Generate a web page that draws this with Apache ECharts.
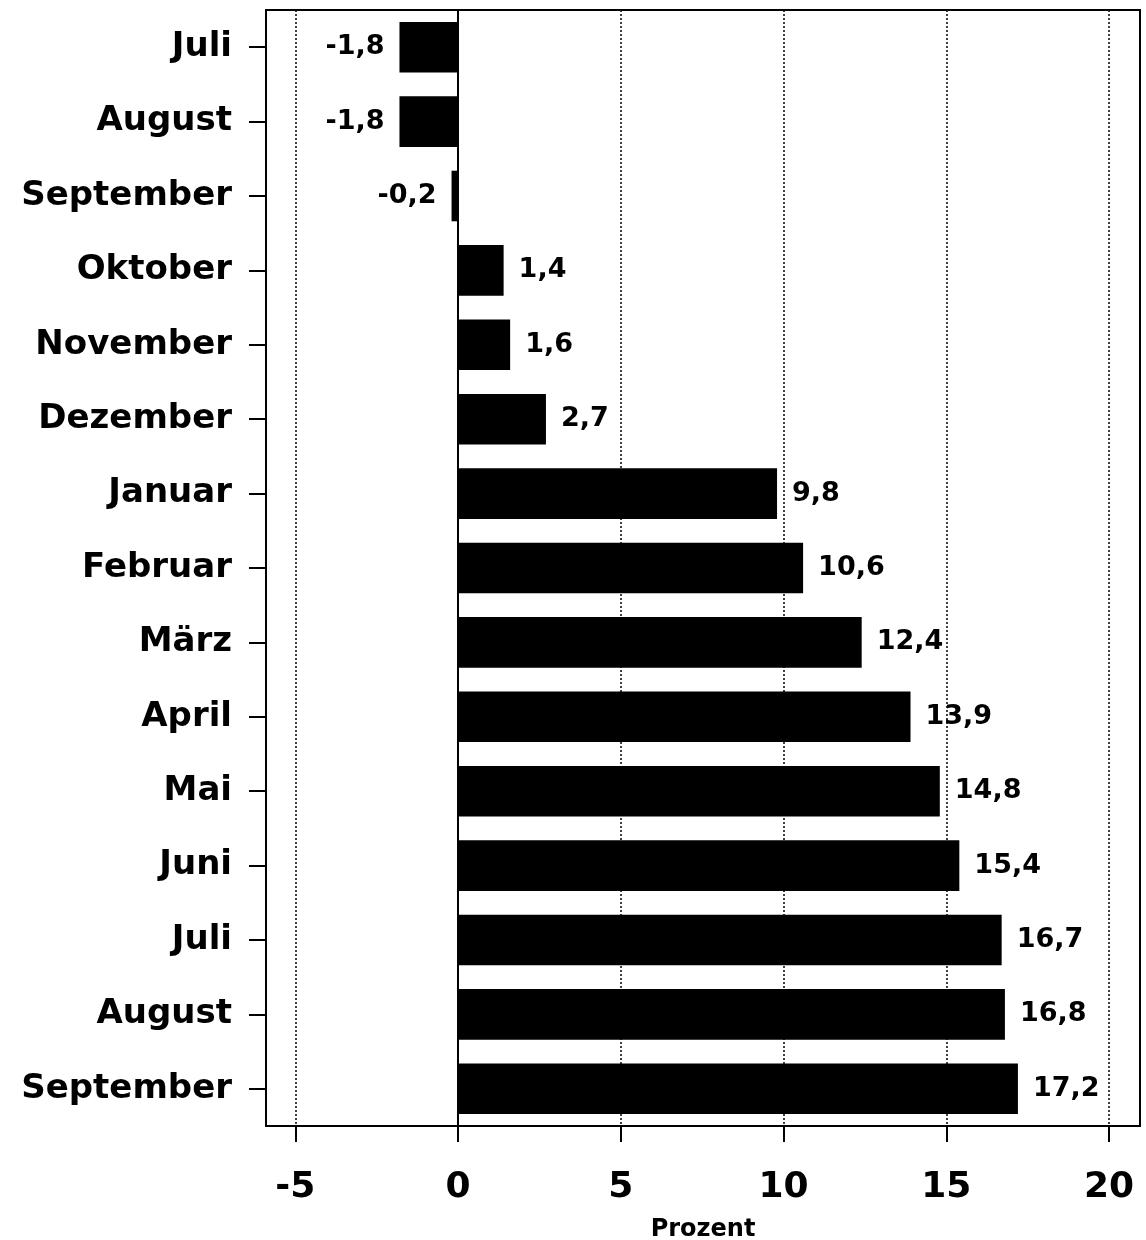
<!DOCTYPE html>
<html lang="de">
<head>
<meta charset="UTF-8">
<title>Prozent</title>
<script src="https://cdn.jsdelivr.net/npm/echarts@6/dist/echarts.min.js"></script>
<style>
  html, body { margin: 0; padding: 0; background: #fff; }
  #chart { width: 1146px; height: 1240px; }
</style>
</head>
<body>
<div id="chart"></div>
<script>
// months, top to bottom
const months = ['Juli', 'August', 'September', 'Oktober', 'November', 'Dezember',
  'Januar', 'Februar', 'März', 'April', 'Mai', 'Juni', 'Juli', 'August', 'September'];
const values = [-1.8, -1.8, -0.2, 1.4, 1.6, 2.7, 9.8, 10.6, 12.4, 13.9, 14.8, 15.4, 16.7, 16.8, 17.2];
const xTicks = [-5, 0, 5, 10, 15, 20];

const font = 'DejaVu Sans';
const fmt = v => v.toFixed(1).replace('.', ',');

// months repeat, so the axis uses indices and the formatter maps back
const catKeys = months.map((m, i) => String(i));

const barData = values.map(v => ({
  value: v,
  label: { position: v < 0 ? 'left' : 'right' }
}));

const chart = echarts.init(document.getElementById('chart'));
chart.setOption({
  animation: false,
  backgroundColor: '#fff',
  grid: {
    left: 266, right: 6, top: 10, height: 1116,
    outerBoundsMode: 'none',
    containLabel: false,
    show: true, borderColor: '#000', borderWidth: 2, backgroundColor: 'transparent'
  },
  xAxis: {
    type: 'value',
    min: -5.9,
    max: 20.95,
    name: 'Prozent',
    nameLocation: 'middle',
    nameGap: 92,
    nameTextStyle: { fontFamily: font, fontWeight: 'bold', fontSize: 24, color: '#000' },
    axisLine: { show: true, onZero: false, lineStyle: { color: '#000', width: 2 } },
    axisTick: { show: true, length: 16, customValues: xTicks, lineStyle: { color: '#000', width: 2 } },
    axisLabel: {
      customValues: xTicks,
      margin: 44,
      fontFamily: font, fontWeight: 'bold', fontSize: 36, color: '#000',
      formatter: v => String(v)
    },
    splitLine: { show: true, lineStyle: { color: '#111', width: 1.6, type: [2, 2] } }
  },
  yAxis: {
    type: 'category',
    inverse: true,
    data: catKeys,
    axisLine: { show: true, onZero: false, lineStyle: { color: '#000', width: 2 } },
    axisTick: { show: true, alignWithLabel: true, length: 17, lineStyle: { color: '#000', width: 2 } },
    axisLabel: {
      margin: 34,
      fontFamily: font, fontWeight: 'bold', fontSize: 34, color: '#000',
      formatter: v => months[+v]
    },
    splitLine: { show: false }
  },
  series: [{
    type: 'bar',
    data: barData,
    barWidth: '68%',
    itemStyle: { color: '#000' },
    label: {
      show: true,
      distance: 15,
      fontFamily: font, fontWeight: 'bold', fontSize: 27, color: '#000',
      formatter: p => fmt(p.value)
    },
    markLine: {
      silent: true,
      symbol: 'none',
      label: { show: false },
      lineStyle: { color: '#000', width: 2, type: 'solid' },
      data: [{ xAxis: 0 }]
    }
  }]
});
</script>
</body>
</html>
